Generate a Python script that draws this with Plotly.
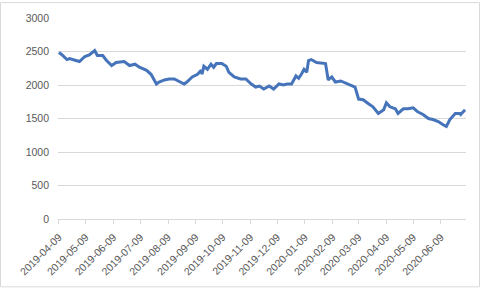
import plotly.graph_objects as go

dates = [
    "2019-04-09", "2019-04-12", "2019-04-18", "2019-04-21", "2019-04-27", "2019-05-02",
    "2019-05-08", "2019-05-13", "2019-05-19", "2019-05-22", "2019-05-28", "2019-06-01",
    "2019-06-07", "2019-06-12", "2019-06-21", "2019-06-27", "2019-07-03", "2019-07-08",
    "2019-07-16", "2019-07-21", "2019-07-27", "2019-07-30", "2019-08-05", "2019-08-10",
    "2019-08-16", "2019-08-22", "2019-08-27", "2019-08-30", "2019-09-05", "2019-09-11",
    "2019-09-15", "2019-09-16", "2019-09-18", "2019-09-22", "2019-09-26", "2019-09-29",
    "2019-10-02", "2019-10-08", "2019-10-13", "2019-10-16", "2019-10-22", "2019-10-29",
    "2019-11-04", "2019-11-10", "2019-11-15", "2019-11-19", "2019-11-24", "2019-11-30",
    "2019-12-05", "2019-12-11", "2019-12-16", "2019-12-20", "2019-12-25", "2019-12-30",
    "2020-01-02", "2020-01-05", "2020-01-08", "2020-01-11", "2020-01-13", "2020-01-16",
    "2020-01-22", "2020-02-01", "2020-02-04", "2020-02-08", "2020-02-12", "2020-02-18",
    "2020-02-23", "2020-02-29", "2020-03-05", "2020-03-09", "2020-03-14", "2020-03-20",
    "2020-03-25", "2020-03-31", "2020-04-06", "2020-04-09", "2020-04-13", "2020-04-19",
    "2020-04-22", "2020-04-28", "2020-05-03", "2020-05-09", "2020-05-14", "2020-05-20",
    "2020-05-26", "2020-05-31", "2020-06-06", "2020-06-11", "2020-06-15", "2020-06-19",
    "2020-06-25", "2020-06-30", "2020-07-01", "2020-07-06",
]

values = [
    2485, 2455, 2380, 2395, 2370, 2350,
    2425, 2450, 2515, 2440, 2440, 2370,
    2290, 2335, 2350, 2290, 2310, 2265,
    2220, 2160, 2015, 2045, 2075, 2090,
    2090, 2045, 2015, 2045, 2120, 2160,
    2220, 2160, 2280, 2235, 2310, 2265,
    2320, 2320, 2280, 2190, 2120, 2090,
    2090, 2015, 1970, 1985, 1940, 1985,
    1940, 2015, 2000, 2015, 2015, 2135,
    2100, 2160, 2235, 2190, 2365, 2380,
    2335, 2320, 2075, 2120, 2045, 2060,
    2030, 2000, 1970, 1790, 1780, 1720,
    1675, 1575, 1630, 1735, 1675, 1645,
    1575, 1645, 1645, 1660, 1600, 1560,
    1500, 1485, 1455, 1410, 1380, 1485,
    1575, 1575, 1560, 1630,
]

tick_labels = [
    "2019-04-09", "2019-05-09", "2019-06-09", "2019-07-09", "2019-08-09",
    "2019-09-09", "2019-10-09", "2019-11-09", "2019-12-09", "2020-01-09",
    "2020-02-09", "2020-03-09", "2020-04-09", "2020-05-09", "2020-06-09",
]

y_ticks = [0, 500, 1000, 1500, 2000, 2500, 3000]

fig = go.Figure()
fig.add_trace(go.Scatter(
    x=dates, y=values, mode="lines",
    line=dict(color="#4674BA", width=3),
    hoverinfo="skip",
))

W, H = 481, 289
ml, mr, mt, mb = 58, 15, 16, 70
pw, ph = W - ml - mr, H - mt - mb

fig.update_layout(
    width=W, height=H,
    margin=dict(l=ml, r=mr, t=mt, b=mb),
    paper_bgcolor="white", plot_bgcolor="white",
    showlegend=False,
    font=dict(family="Liberation Sans, Arial, sans-serif", size=10.5, color="#595959"),
    xaxis=dict(
        type="date",
        range=["2019-04-08", "2020-07-07"],
        tickvals=tick_labels, ticktext=tick_labels,
        tickangle=-45,
        showgrid=False,
        showline=True, linecolor="#d9d9d9", linewidth=1,
        ticks="outside", ticklen=4, tickcolor="#d9d9d9",
        ticklabelstandoff=3,
        zeroline=False,
        tickfont=dict(size=10.5, color="#595959"),
    ),
    yaxis=dict(
        range=[0, 3000],
        tickvals=y_ticks,
        showgrid=True, gridcolor="#d9d9d9", gridwidth=1,
        zeroline=False, showline=False,
        ticks="", ticklabelstandoff=8,
        tickfont=dict(size=10.5, color="#595959"),
    ),
    shapes=[dict(
        type="rect", xref="paper", yref="paper",
        x0=-(ml - 0.5) / pw, x1=1 + (mr - 1.5) / pw,
        y0=-(mb - 1.5) / ph, y1=1 + (mt - 0.5) / ph,
        line=dict(color="#d9d9d9", width=1),
    )],
)

fig.write_html("out.html")
